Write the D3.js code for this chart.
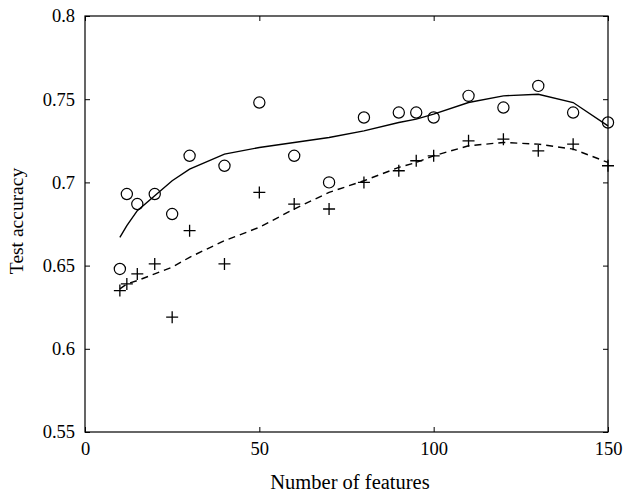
<!DOCTYPE html>
<html>
<head>
<meta charset="utf-8">
<script src="https://cdn.jsdelivr.net/npm/d3@7"></script>
<style>
  html, body { margin: 0; padding: 0; background: #fff; }
  svg { display: block; }
  text { font-family: "Liberation Serif", "DejaVu Serif", serif; fill: #000; }
</style>
</head>
<body>
<svg id="chart" width="624" height="497"></svg>
<script>
// ---- data ----
const features = [10, 12, 15, 20, 25, 30, 40, 50, 60, 70, 80, 90, 95, 100, 110, 120, 130, 140, 150];
const circleAcc = [0.648, 0.693, 0.687, 0.693, 0.681, 0.716, 0.710, 0.748, 0.716, 0.700, 0.739, 0.742, 0.742, 0.739, 0.752, 0.745, 0.758, 0.742, 0.736];
const solidFit  = [0.667, 0.674, 0.683, 0.692, 0.701, 0.708, 0.717, 0.721, 0.724, 0.727, 0.731, 0.736, 0.738, 0.741, 0.748, 0.752, 0.753, 0.748, 0.734];
const plusAcc   = [0.635, 0.639, 0.645, 0.651, 0.619, 0.671, 0.651, 0.694, 0.687, 0.684, 0.700, 0.707, 0.713, 0.716, 0.725, 0.726, 0.719, 0.723, 0.710];
const dashedFit = [0.636, 0.639, 0.641, 0.645, 0.649, 0.655, 0.665, 0.673, 0.684, 0.694, 0.701, 0.709, 0.712, 0.716, 0.722, 0.724, 0.723, 0.720, 0.712];
const xTicks = [0, 50, 100, 150];
const yTicks = [0.55, 0.6, 0.65, 0.7, 0.75, 0.8];
const xLabel = "Number of features";
const yLabel = "Test accuracy";

// ---- layout ----
const svg = d3.select("#chart");
const L = 85, R = 608, T = 16, B = 432;
const x = d3.scaleLinear().domain([0, 150]).range([L, R]);
const y = d3.scaleLinear().domain([0.55, 0.8]).range([B, T]);
const tickLen = 5;
const fs = 18.5;

const g = svg.append("g");

// axes with inward ticks
const axB = d3.axisBottom(x).tickValues(xTicks).tickSize(-tickLen).tickPadding(10).tickFormat(d3.format("d"));
const axT = d3.axisTop(x).tickValues(xTicks).tickSize(-tickLen).tickFormat("");
const axLft = d3.axisLeft(y).tickValues(yTicks).tickSize(-tickLen).tickPadding(10).tickFormat(d => String(+d.toFixed(2)));
const axRt = d3.axisRight(y).tickValues(yTicks).tickSize(-tickLen).tickFormat("");

function styleAxis(sel) {
  sel.select(".domain").remove();
  sel.selectAll(".tick line").attr("stroke", "#000").attr("stroke-width", 1);
  sel.selectAll(".tick text").style("font-size", fs + "px").style("font-family", '"Liberation Serif", serif').attr("fill", "#000");
}
g.append("g").attr("transform", `translate(0,${B})`).call(axB).call(styleAxis);
g.append("g").attr("transform", `translate(0,${T})`).call(axT).call(styleAxis);
g.append("g").attr("transform", `translate(${L},0)`).call(axLft).call(styleAxis);
g.append("g").attr("transform", `translate(${R},0)`).call(axRt).call(styleAxis);

// frame
g.append("rect").attr("x", L).attr("y", T).attr("width", R - L).attr("height", B - T)
  .attr("fill", "none").attr("stroke", "#000").attr("stroke-width", 1.2);

// lines
const line = (vals) => d3.line().x((d, i) => x(features[i])).y((d) => y(d))(vals);
g.append("path").attr("d", line(solidFit)).attr("fill", "none").attr("stroke", "#000").attr("stroke-width", 1.4);
g.append("path").attr("d", line(dashedFit)).attr("fill", "none").attr("stroke", "#000").attr("stroke-width", 1.4)
  .attr("stroke-dasharray", "7,5");

// circle markers
g.selectAll("circle.m").data(circleAcc).enter().append("circle")
  .attr("cx", (d, i) => x(features[i])).attr("cy", d => y(d)).attr("r", 5.6)
  .attr("fill", "none").attr("stroke", "#000").attr("stroke-width", 1.2);

// plus markers
const ps = 6;
g.selectAll("path.p").data(plusAcc).enter().append("path")
  .attr("d", (d, i) => {
    const cx = x(features[i]), cy = y(d);
    return `M${cx - ps},${cy}H${cx + ps}M${cx},${cy - ps}V${cy + ps}`;
  })
  .attr("fill", "none").attr("stroke", "#000").attr("stroke-width", 1.3);

// axis labels
svg.append("text").attr("x", 350).attr("y", 489).attr("text-anchor", "middle")
  .style("font-size", "20.5px").text(xLabel);
svg.append("text").attr("transform", `translate(23,221) rotate(-90)`).attr("text-anchor", "middle")
  .style("font-size", "19.5px").text(yLabel);
</script>
</body>
</html>
